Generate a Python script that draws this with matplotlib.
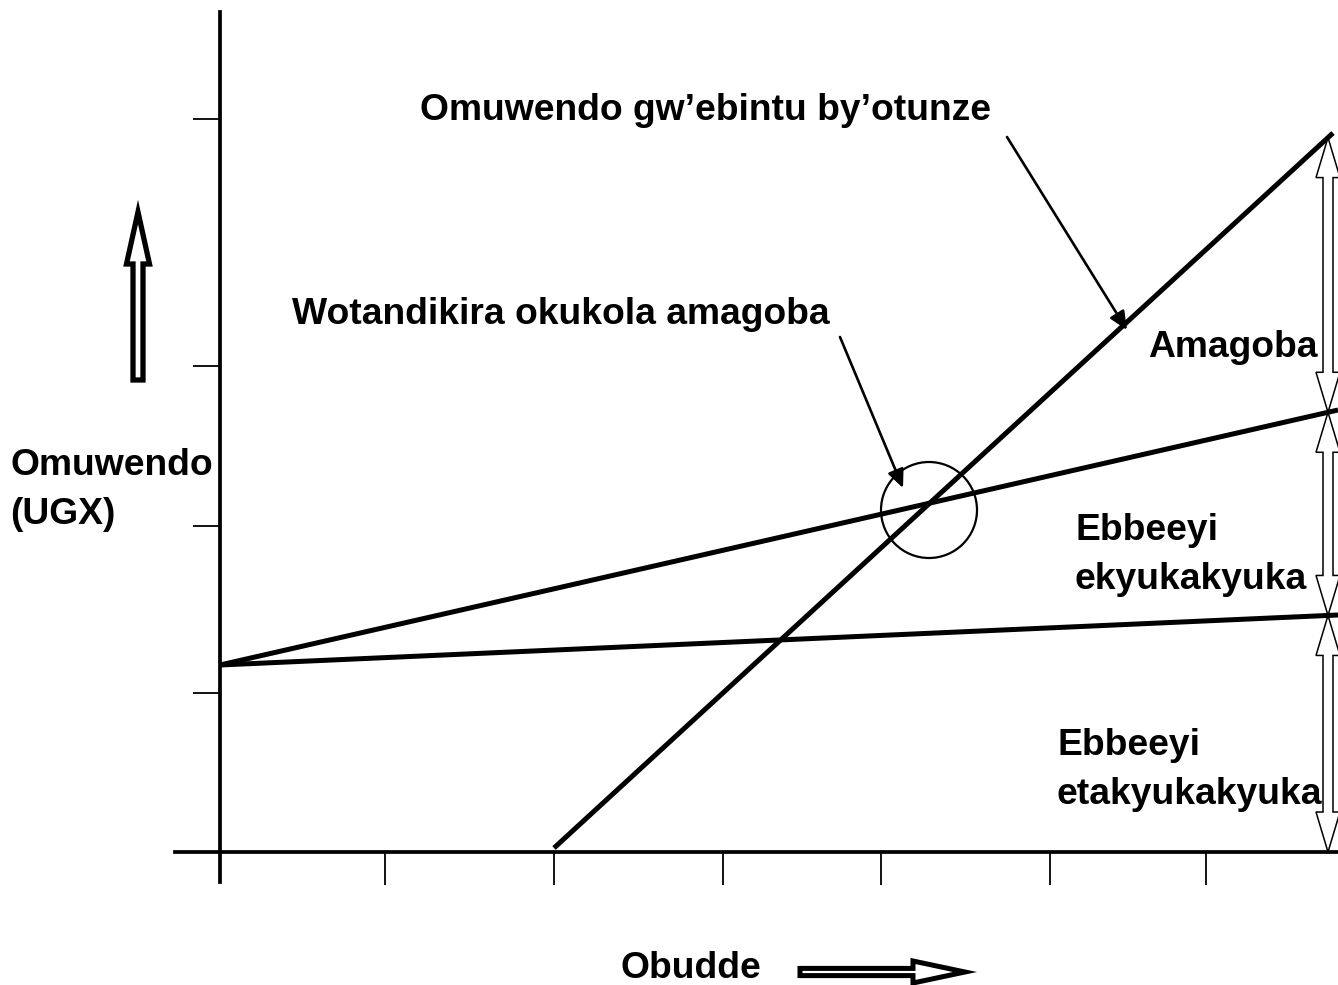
import numpy as np
import matplotlib
matplotlib.use("Agg")
import matplotlib.pyplot as plt
from matplotlib.patches import Polygon, Circle, FancyArrowPatch

plt.rcParams['font.family'] = ['Liberation Sans', 'DejaVu Sans']

# ---- data (units: time on x, value on y; origin at axis crossing) ----
x_ticks = [165, 334, 503, 661, 830, 986]
y_ticks = [159, 326, 486, 733]

fixed_x = [0, 1118]
fixed_y = [187, 237]          # Ebbeeyi etakyukakyuka (fixed cost)
total_x = [0, 1118]
total_y = [187, 442]          # total cost
revenue_x = [334, 1113]
revenue_y = [4, 719]          # Omuwendo gw'ebintu by'otunze (sales)

bar_x = 1108                  # where the bracket arrows stand
break_even = (709, 342)       # circled break-even point
circle_r = 48

title_revenue = "Omuwendo gw\u2019ebintu by\u2019otunze"
title_break = "Wotandikira okukola amagoba"
lbl_profit = "Amagoba"
lbl_var = "Ebbeeyi\nekyukakyuka"
lbl_fixed = "Ebbeeyi\netakyukakyuka"
lbl_y = "Omuwendo\n(UGX)"
lbl_x = "Obudde"

W, H = 1338, 985
fig = plt.figure(figsize=(W / 100, H / 100), dpi=100)
ax_l, ax_r, ax_t, ax_b = 175, 1338, 12, 882
ax = fig.add_axes([ax_l / W, 1 - ax_b / H, (ax_r - ax_l) / W, (ax_b - ax_t) / H])
ox, oy = 220, 852
ax.set_xlim(ax_l - ox, ax_r - ox)
ax.set_ylim(oy - ax_b, oy - ax_t)

for s in ['top', 'right']:
    ax.spines[s].set_visible(False)
for s in ['left', 'bottom']:
    ax.spines[s].set_position(('data', 0))
    ax.spines[s].set_linewidth(2.7)
ax.set_xticks(x_ticks)
ax.set_yticks(y_ticks)
ax.set_xticklabels([])
ax.set_yticklabels([])
ax.tick_params(axis='x', direction='out', length=24, width=1.3)
ax.tick_params(axis='y', direction='out', length=19.5, width=1.3)
ax.patch.set_visible(False)

lw = 3.6
ax.plot(fixed_x, fixed_y, color='black', lw=lw, clip_on=False, solid_capstyle='butt')
ax.plot(total_x, total_y, color='black', lw=lw, clip_on=False, solid_capstyle='butt')
ax.plot(revenue_x, revenue_y, color='black', lw=lw, clip_on=False, solid_capstyle='butt')

ax.add_patch(Circle(break_even, circle_r, fill=False, ec='black', lw=1.6, clip_on=False))


def hollow_arrow(x0, y0, x1, y1, sw, hw, hl, double=False, lw=1.1):
    """Outline arrow polygon from (x0,y0) to (x1,y1) (head at end)."""
    p0 = np.array([x0, y0], float)
    p1 = np.array([x1, y1], float)
    d = p1 - p0
    L = np.hypot(*d)
    u = d / L
    n = np.array([-u[1], u[0]])
    b1 = p1 - u * hl
    if double:
        b0 = p0 + u * hl
        pts = [p0, b0 + n * hw, b0 + n * sw, b1 + n * sw, b1 + n * hw, p1,
               b1 - n * hw, b1 - n * sw, b0 - n * sw, b0 - n * hw]
    else:
        pts = [p0 + n * sw, b1 + n * sw, b1 + n * hw, p1,
               b1 - n * hw, b1 - n * sw, p0 - n * sw]
    ax.add_patch(Polygon(pts, closed=True, fc='white', ec='black', lw=lw,
                         joinstyle='miter', clip_on=False, zorder=3))


# bracket arrows on the right
top = np.interp(bar_x, revenue_x, revenue_y)
mid = np.interp(bar_x, total_x, total_y)
low = np.interp(bar_x, fixed_x, fixed_y)
for a, b in [(top, mid), (mid, low), (low, 0)]:
    hollow_arrow(bar_x, b, bar_x, a, sw=5, hw=12, hl=40, double=True, lw=1.1)

# up arrow on the left (value axis)
hollow_arrow(-82, 472, -82, 640, sw=5, hw=11.5, hl=52, lw=3.8)
# right arrow at the bottom (time axis)
hollow_arrow(580, -120, 745, -120, sw=3.6, hw=11, hl=52, lw=3.6)

fs = 26.8
tkw = dict(fontsize=fs, fontweight='bold', ha='left', va='center', linespacing=1.5)
ax.text(200, 742, title_revenue, **tkw)
ax.text(72, 538, title_break, **tkw)
ax.text(928, 505, lbl_profit, **tkw)
ax.text(855, 297, lbl_var, **tkw)
ax.text(837, 82, lbl_fixed, **tkw)
ax.text(-210, 362, lbl_y, **tkw)
ax.text(400, -116, lbl_x, **tkw)

akw = dict(arrowstyle='-|>,head_length=1.0,head_width=0.45', mutation_scale=11,
           color='black', lw=1.9, shrinkA=0, shrinkB=0, clip_on=False)
ax.add_patch(FancyArrowPatch((787, 715), (907, 522), **akw))
ax.add_patch(FancyArrowPatch((620, 515), (683, 364), **akw))

fig.savefig("out.png", dpi=100)
